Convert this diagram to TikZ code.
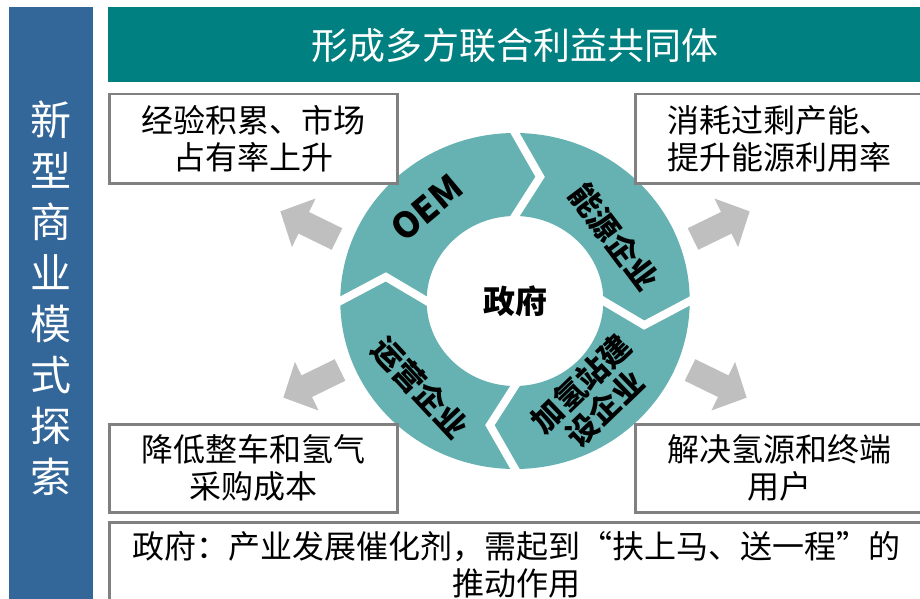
\documentclass[tikz,border=0pt]{standalone}
\usepackage{fontspec}
\setmainfont{Noto Sans CJK SC}
\usetikzlibrary{calc}
\definecolor{barblue}{RGB}{51,102,153}
\definecolor{bannerteal}{RGB}{0,128,128}
\definecolor{ringteal}{RGB}{102,178,178}
\definecolor{boxgray}{RGB}{128,128,128}
\definecolor{arrowgray}{RGB}{191,191,191}
\begin{document}
\begin{tikzpicture}[x=1pt,y=-1pt,
  infobox/.style={draw=boxgray, line width=2.5pt, fill=white, anchor=north west,
    align=center, inner sep=0, font=\fontsize{32}{37}\selectfont},
  ringtext/.style={font=\fontsize{31}{34}\selectfont\bfseries, align=center, inner sep=0},
  gapline/.style={draw=white, line width=8pt},
  blockarr/.pic={\fill[arrowgray] (0,-12) -- (37,-12) -- (37,-27) -- (63,0) -- (37,27) -- (37,12) -- (0,12) -- cycle;}]
\useasboundingbox (0,0) rectangle (920,599);
\fill[white] (0,0) rectangle (920,599);

% left bar with vertical title
\node[fill=barblue, anchor=north west, minimum width=84, minimum height=600, inner sep=0] (bar) at (9,7) {};
\node[text=white, font=\fontsize{41}{51}\selectfont, align=center, inner sep=0] (bartext) at (51,298)
  {新\\型\\商\\业\\模\\式\\探\\索};

% top banner
\node[fill=bannerteal, anchor=north west, minimum width=820, minimum height=75, inner sep=0] (banner) at (108,7) {};
\node[text=white, font=\fontsize{37}{40}\selectfont, inner sep=0] (bannertext) at (515,45) {形成多方联合利益共同体};

% ring
\begin{scope}[shift={(515,301)}, xscale=1.04]
  \fill[ringteal, even odd rule] (0,0) circle[radius=168] (0,0) circle[radius=85];
  \foreach \a/\n in {-90/ga,0/gb,90/gc,180/gd}{
    \coordinate (\n o) at (\a:168);
    \coordinate (\n t) at (\a+11:126.5);
    \coordinate (\n i) at (\a:85);
    \draw[gapline] ($(\n t)!1.3!(\n o)$) -- (\n t) -- ($(\n t)!1.5!(\n i)$);
  }
\end{scope}

% corner boxes
\node[infobox, minimum width=288, minimum height=89] (tl) at (108,93) {经验积累、市场\\占有率上升};
\node[infobox, minimum width=288, minimum height=89] (tr) at (634,93) {消耗过剩产能、\\提升能源利用率};
\node[infobox, minimum width=288, minimum height=88] (bl) at (108,423) {降低整车和氢气\\采购成本};
\node[infobox, minimum width=288, minimum height=88] (br) at (634,423) {解决氢源和终端\\用户};
\node[infobox, minimum width=814, minimum height=86] (bottom) at (108,521)
  {政府：产业发展催化剂，需起到“扶上马、送一程”的\\推动作用};

% grey block arrows
\pic[rotate=154] at (337,239) {blockarr};
\pic[rotate=26] at (693,239) {blockarr};
\pic[rotate=-26] at (690,370) {blockarr};
\pic[rotate=206] at (340,370) {blockarr};

% ring texts
\node[ringtext, rotate=40, font=\fontsize{35}{35}\selectfont\bfseries] (oem) at (427,208) {OEM};
\node[ringtext, rotate=-53] (energy) at (614,237) {能源企业};
\node[ringtext, rotate=44] (h2) at (593,396) {加氢站建\\设企业};
\node[ringtext, rotate=-47] (ops) at (420,388) {运营企业};
\node[font=\fontsize{32}{32}\selectfont\bfseries, inner sep=0] (gov) at (515,301) {政府};
\end{tikzpicture}
\end{document}
